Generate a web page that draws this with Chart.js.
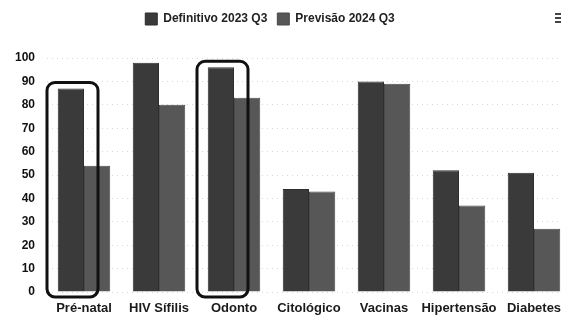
<!DOCTYPE html>
<html>
<head>
<meta charset="utf-8">
<script src="https://cdn.jsdelivr.net/npm/chart.js@4/dist/chart.umd.min.js"></script>
<style>
  html, body { margin: 0; padding: 0; background: #fff; overflow: hidden; width: 561px; height: 316px; }
  #caixa { position: absolute; left: -40px; top: 0; width: 620px; height: 316px; }
  #menu { position: absolute; left: 555px; top: 13px; width: 9px; }
  #menu span { display: block; height: 2px; background: #444; margin-bottom: 2px; }
</style>
</head>
<body>
<div id="caixa"><canvas id="grafico"></canvas></div>
<div id="menu"><span></span><span></span><span></span></div>
<script>
const categorias = ['Pré-natal', 'HIV Sífilis', 'Odonto', 'Citológico', 'Vacinas', 'Hipertensão', 'Diabetes'];
const definitivo2023 = [87, 98, 96, 44, 90, 52, 51];
const previsao2024 = [54, 80, 83, 43, 89, 37, 27];
const ticksY = [0, 10, 20, 30, 40, 50, 60, 70, 80, 90, 100];
const destaques = ['Pré-natal', 'Odonto'];

// caixas arredondadas em volta das categorias destacadas
const caixasDestaque = {
    id: 'caixasDestaque',
    afterDatasetsDraw(chart) {
        const ctx = chart.ctx;
        const x = chart.scales.x;
        const y = chart.scales.y;
        ctx.save();
        ctx.strokeStyle = '#111';
        ctx.lineWidth = 3;
        destaques.forEach(nome => {
            const i = categorias.indexOf(nome);
            const cx = x.getPixelForValue(i);
            const esq = cx - 37, dir = cx + 14;
            const topo = y.getPixelForValue(definitivo2023[i]) - 6;
            const base = y.getPixelForValue(0) + 5;
            ctx.beginPath();
            ctx.roundRect(esq, topo, dir - esq, base - topo, 8);
            ctx.stroke();
        });
        ctx.restore();
    }
};

// mais espaço entre a legenda e o gráfico
const espacoLegenda = {
    id: 'espacoLegenda',
    beforeInit(chart) {
        const fitOriginal = chart.legend.fit;
        chart.legend.fit = function () {
            fitOriginal.bind(chart.legend)();
            this.height += 23;
        };
    }
};

const fonte = { family: '"Liberation Sans", Arial, sans-serif', size: 12, weight: 'bold' };

new Chart(document.getElementById('grafico'), {
    type: 'bar',
    data: {
        labels: categorias,
        datasets: [
            { label: 'Definitivo 2023 Q3', data: definitivo2023, backgroundColor: '#3a3a3a', borderColor: '#2e2e2e', borderWidth: 1 },
            { label: 'Previsão 2024 Q3', data: previsao2024, backgroundColor: '#575757', borderColor: '#4a4a4a', borderWidth: 1 }
        ]
    },
    options: {
        responsive: true,
        maintainAspectRatio: false,
        animation: false,
        layout: { padding: { left: 8.5, right: 8.5, top: 3, bottom: 0 } },
        datasets: { bar: { categoryPercentage: 0.7, barPercentage: 1.0 } },
        plugins: {
            legend: {
                position: 'top',
                labels: { color: '#222', boxWidth: 12, boxHeight: 12, padding: 10, font: fonte }
            },
            tooltip: { enabled: false }
        },
        scales: {
            x: {
                afterFit: axis => { axis.height = 24; },
                grid: { display: false },
                border: { display: false },
                ticks: { color: '#1a1a1a', font: { ...fonte, size: 13 }, padding: 1, maxRotation: 0, autoSkip: false }
            },
            y: {
                min: 0, max: 100,
                afterBuildTicks: axis => { axis.ticks = ticksY.map(v => ({ value: v })); },
                afterFit: axis => { axis.width = 78; },
                grid: { color: '#d8d8d8', lineWidth: 1, drawTicks: false },
                border: { display: false, dash: [1, 4] },
                ticks: { color: '#111', font: fonte, padding: 11.5 }
            }
        }
    },
    plugins: [caixasDestaque, espacoLegenda]
});
</script>
</body>
</html>
